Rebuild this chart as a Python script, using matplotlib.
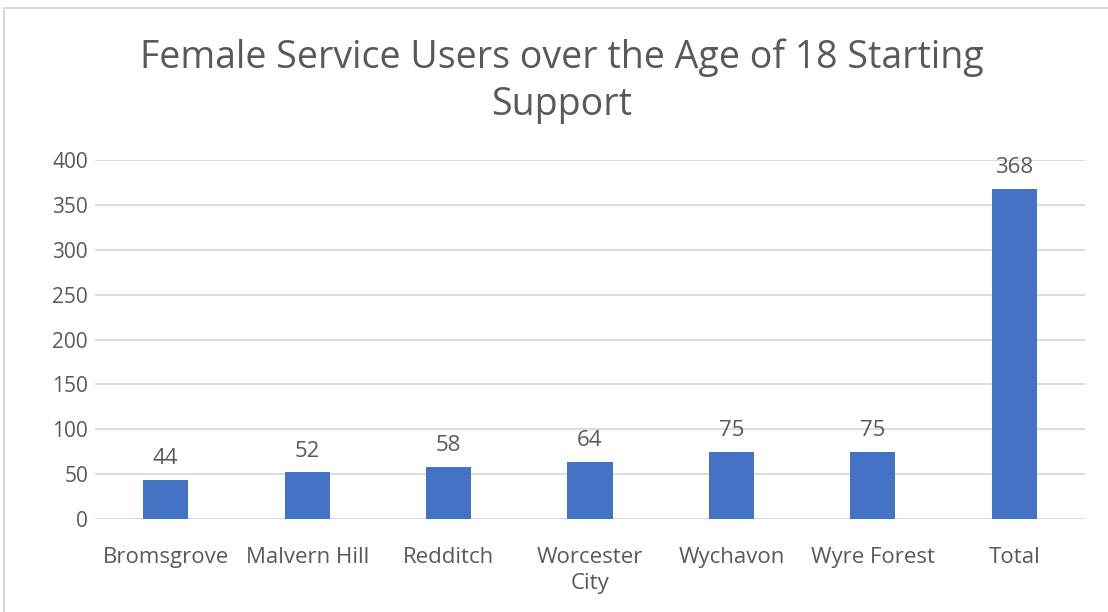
import matplotlib.pyplot as plt
from matplotlib.patches import Rectangle

# data
areas = ["Bromsgrove", "Malvern Hill", "Redditch", "Worcester\nCity", "Wychavon", "Wyre Forest", "Total"]
users = [44, 52, 58, 64, 75, 75, 368]
yticks = [0, 50, 100, 150, 200, 250, 300, 350, 400]

plt.rcParams['font.family'] = ['Open Sans', 'DejaVu Sans']
txt = '#595959'

fig = plt.figure(figsize=(11.08, 6.12), dpi=100)
ax = fig.add_axes([95/1108, 1 - 519/612, 990/1108, 359/612])

x = range(len(areas))
bars = ax.bar(x, users, width=0.32, color='#4472C4', zorder=3)
for b, v in zip(bars, users):
    ax.text(b.get_x() + b.get_width()/2, v + 12, str(v), ha='center', va='bottom',
            fontsize=16, color=txt)

ax.set_xlim(-0.5, len(areas) - 0.5)
ax.set_ylim(0, 400)
ax.set_yticks(yticks)
ax.set_xticks(list(x))
ax.set_xticklabels(areas, fontsize=16, color=txt, linespacing=1.35)
ax.tick_params(axis='y', labelsize=15, labelcolor=txt, length=0, pad=5)
ax.tick_params(axis='x', length=0, pad=20)
ax.grid(axis='y', color='#d9d9d9', linewidth=1.3, zorder=0)
for s in ax.spines.values():
    s.set_visible(False)

fig.text(0.507, 1 - 81/612, "Female Service Users over the Age of 18 Starting\nSupport",
         ha='center', va='center', fontsize=27, color=txt, linespacing=1.3)

fig.patches.append(Rectangle((4/1108, -0.1), 1.2, 1 - 8/612 + 0.1, transform=fig.transFigure,
                             fill=False, edgecolor='#d9d9d9', linewidth=1.5))

fig.savefig('out.png', dpi=100)
